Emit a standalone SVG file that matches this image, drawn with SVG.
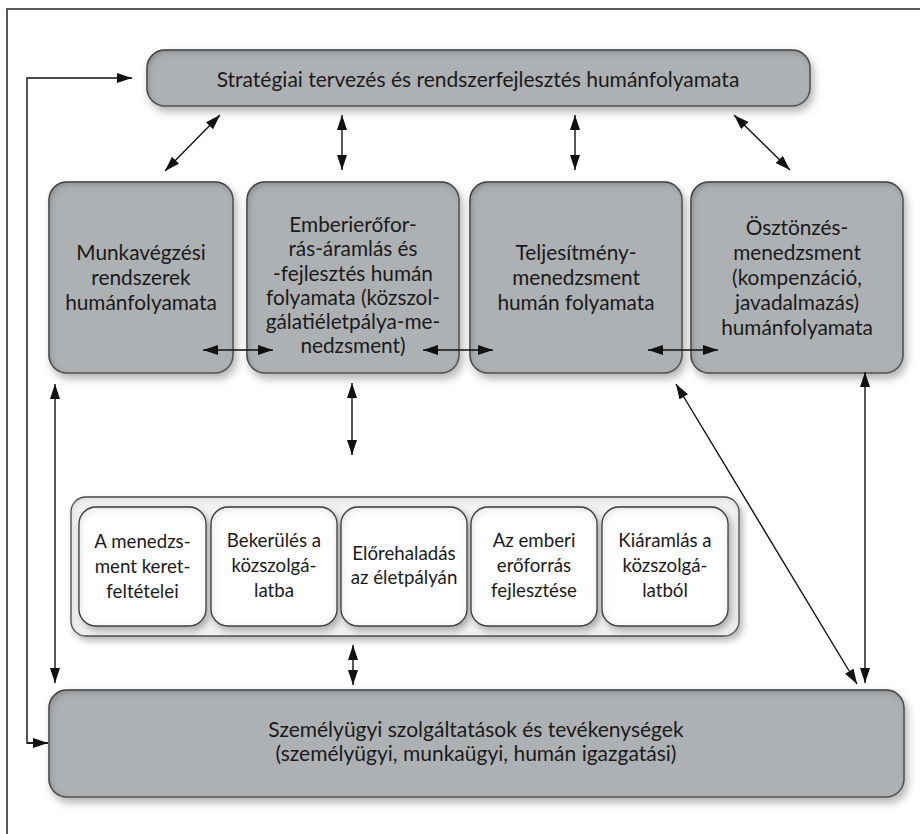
<svg xmlns="http://www.w3.org/2000/svg" width="920" height="834" viewBox="0 0 920 834">
  <style>
    .gbox { fill: #aeb1b4; stroke: #555; stroke-width: 1.5; }
    .wbox { fill: #ffffff; stroke: #444; stroke-width: 1.3; }
    .cbox { fill: #f3f3f3; stroke: #555; stroke-width: 1.3; }
    .t { font-family: Lato, "Open Sans", sans-serif; fill: #1a1a1a; text-anchor: middle; }
    .tm { font-size: 20.8px; }
    .ts { font-size: 18.7px; }
    .conn line, .conn polyline { stroke: #111; stroke-width: 1.4; fill: none; }
    .frame { stroke: #222; stroke-width: 1.5; fill: none; }
  </style>
  <defs>
    <!-- drop shadow outside, soft inner shadow along the top/left edges -->
    <filter id="shade" x="-10%" y="-20%" width="125%" height="150%">
      <feGaussianBlur in="SourceAlpha" stdDeviation="4" result="blur"/>
      <feOffset in="blur" dx="3" dy="5" result="ob"/>
      <feFlood flood-color="#000" flood-opacity="0.3" result="c1"/>
      <feComposite in="c1" in2="ob" operator="in" result="drop"/>
      <feFlood flood-color="#000" flood-opacity="0.45" result="c2"/>
      <feComposite in="c2" in2="SourceAlpha" operator="out" result="inv"/>
      <feGaussianBlur in="inv" stdDeviation="3.5" result="invb"/>
      <feOffset in="invb" dx="2" dy="3" result="invo"/>
      <feComposite in="invo" in2="SourceAlpha" operator="in" result="inner"/>
      <feMerge>
        <feMergeNode in="drop"/>
        <feMergeNode in="SourceGraphic"/>
        <feMergeNode in="inner"/>
      </feMerge>
    </filter>
    <filter id="shadeLight" x="-10%" y="-20%" width="125%" height="150%">
      <feGaussianBlur in="SourceAlpha" stdDeviation="3.5" result="blur"/>
      <feOffset in="blur" dx="3" dy="4" result="ob"/>
      <feFlood flood-color="#000" flood-opacity="0.3" result="c1"/>
      <feComposite in="c1" in2="ob" operator="in" result="drop"/>
      <feFlood flood-color="#000" flood-opacity="0.3" result="c2"/>
      <feComposite in="c2" in2="SourceAlpha" operator="out" result="inv"/>
      <feGaussianBlur in="inv" stdDeviation="4" result="invb"/>
      <feOffset in="invb" dx="1" dy="2" result="invo"/>
      <feComposite in="invo" in2="SourceAlpha" operator="in" result="inner"/>
      <feMerge>
        <feMergeNode in="drop"/>
        <feMergeNode in="SourceGraphic"/>
        <feMergeNode in="inner"/>
      </feMerge>
    </filter>
    <marker id="ah" viewBox="0 0 15 10" refX="15" refY="5" markerWidth="15" markerHeight="10" markerUnits="userSpaceOnUse" orient="auto-start-reverse">
      <path d="M0,0 L15,5 L0,10 z" fill="#111"/>
    </marker>
  </defs>

  <rect width="920" height="834" fill="#fff"/>
  <!-- page frame -->
  <polyline class="frame" points="7,834 7,9 920,9"/>

  <!-- top process -->
  <g id="strategy">
    <rect class="gbox" x="147" y="50" width="663" height="56" rx="18" filter="url(#shade)"/>
    <text class="t" x="478" y="86.5" font-size="21">Stratégiai tervezés és rendszerfejlesztés humánfolyamata</text>
  </g>

  <!-- four human processes -->
  <g id="work-systems">
    <rect class="gbox" x="49" y="182" width="184" height="191" rx="18" filter="url(#shade)"/>
    <text class="t tm" x="141" y="260">Munkavégzési</text>
    <text class="t tm" x="141" y="285">rendszerek</text>
    <text class="t tm" x="141" y="310">humánfolyamata</text>
  </g>
  <g id="hr-flow">
    <rect class="gbox" x="247" y="182" width="212" height="191" rx="18" filter="url(#shade)"/>
    <text class="t tm" x="353" y="232">Emberierőfor-</text>
    <text class="t tm" x="353" y="256">rás-áramlás és</text>
    <text class="t tm" x="353" y="281">-fejlesztés humán</text>
    <text class="t tm" x="353" y="305">folyamata (közszol-</text>
    <text class="t tm" x="353" y="329">gálatiéletpálya-me-</text>
    <text class="t tm" x="353" y="353">nedzsment)</text>
  </g>
  <g id="performance">
    <rect class="gbox" x="470" y="182" width="212" height="191" rx="18" filter="url(#shade)"/>
    <text class="t tm" x="576" y="260">Teljesítmény-</text>
    <text class="t tm" x="576" y="285">menedzsment</text>
    <text class="t tm" x="576" y="310">humán folyamata</text>
  </g>
  <g id="incentives">
    <rect class="gbox" x="691" y="182" width="212" height="191" rx="18" filter="url(#shade)"/>
    <text class="t tm" x="797" y="235">Ösztönzés-</text>
    <text class="t tm" x="797" y="260">menedzsment</text>
    <text class="t tm" x="797" y="285">(kompenzáció,</text>
    <text class="t tm" x="797" y="310">javadalmazás)</text>
    <text class="t tm" x="797" y="335">humánfolyamata</text>
  </g>

  <!-- career stages -->
  <g id="career">
    <rect class="cbox" x="71" y="497" width="668" height="139" rx="15" filter="url(#shadeLight)"/>
    <g id="stage-framework">
      <rect class="wbox" x="79" y="507" width="127" height="119" rx="17" filter="url(#shadeLight)"/>
      <text class="t ts" x="142.5" y="548">A menedzs-</text>
      <text class="t ts" x="142.5" y="573">ment keret-</text>
      <text class="t ts" x="142.5" y="598">feltételei</text>
    </g>
    <g id="stage-entry">
      <rect class="wbox" x="211" y="507" width="126" height="119" rx="17" filter="url(#shadeLight)"/>
      <text class="t ts" x="274" y="547">Bekerülés a</text>
      <text class="t ts" x="274" y="572">közszolgá-</text>
      <text class="t ts" x="274" y="597">latba</text>
    </g>
    <g id="stage-advance">
      <rect class="wbox" x="341" y="507" width="126" height="119" rx="17" filter="url(#shadeLight)"/>
      <text class="t ts" x="404" y="560">Előrehaladás</text>
      <text class="t ts" x="404" y="584">az életpályán</text>
    </g>
    <g id="stage-development">
      <rect class="wbox" x="471" y="507" width="126" height="119" rx="17" filter="url(#shadeLight)"/>
      <text class="t ts" x="534" y="547">Az emberi</text>
      <text class="t ts" x="534" y="572">erőforrás</text>
      <text class="t ts" x="534" y="597">fejlesztése</text>
    </g>
    <g id="stage-exit">
      <rect class="wbox" x="602" y="507" width="126" height="119" rx="17" filter="url(#shadeLight)"/>
      <text class="t ts" x="665" y="547">Kiáramlás a</text>
      <text class="t ts" x="665" y="572">közszolgá-</text>
      <text class="t ts" x="665" y="597">latból</text>
    </g>
  </g>

  <!-- HR services -->
  <g id="services">
    <rect class="gbox" x="49" y="690" width="855" height="107" rx="18" filter="url(#shade)"/>
    <text class="t" x="476" y="737" font-size="21">Személyügyi szolgáltatások és tevékenységek</text>
    <text class="t" x="476" y="761" font-size="21">(személyügyi, munkaügyi, humán igazgatási)</text>
  </g>

  <!-- connectors -->
  <g class="conn">
    <polyline points="48,743 27,743 27,78 132,78" marker-end="url(#ah)"/>
    <polyline points="27,743 48,743" marker-end="url(#ah)"/>
    <line x1="165" y1="171" x2="220" y2="115" marker-start="url(#ah)" marker-end="url(#ah)"/>
    <line x1="342" y1="115" x2="342" y2="170" marker-start="url(#ah)" marker-end="url(#ah)"/>
    <line x1="575" y1="115" x2="575" y2="170" marker-start="url(#ah)" marker-end="url(#ah)"/>
    <line x1="734" y1="115" x2="790" y2="170" marker-start="url(#ah)" marker-end="url(#ah)"/>
    <line x1="203" y1="350" x2="273" y2="350" marker-start="url(#ah)" marker-end="url(#ah)"/>
    <line x1="423" y1="350" x2="493" y2="350" marker-start="url(#ah)" marker-end="url(#ah)"/>
    <line x1="648" y1="350" x2="718" y2="350" marker-start="url(#ah)" marker-end="url(#ah)"/>
    <line x1="352" y1="383" x2="352" y2="455" marker-start="url(#ah)" marker-end="url(#ah)"/>
    <line x1="353" y1="645" x2="353" y2="685" marker-start="url(#ah)" marker-end="url(#ah)"/>
    <line x1="55" y1="384" x2="55" y2="683" marker-start="url(#ah)" marker-end="url(#ah)"/>
    <line x1="676" y1="384" x2="857" y2="684" marker-start="url(#ah)" marker-end="url(#ah)"/>
    <line x1="865" y1="372" x2="865" y2="683" marker-start="url(#ah)" marker-end="url(#ah)"/>
  </g>
</svg>
